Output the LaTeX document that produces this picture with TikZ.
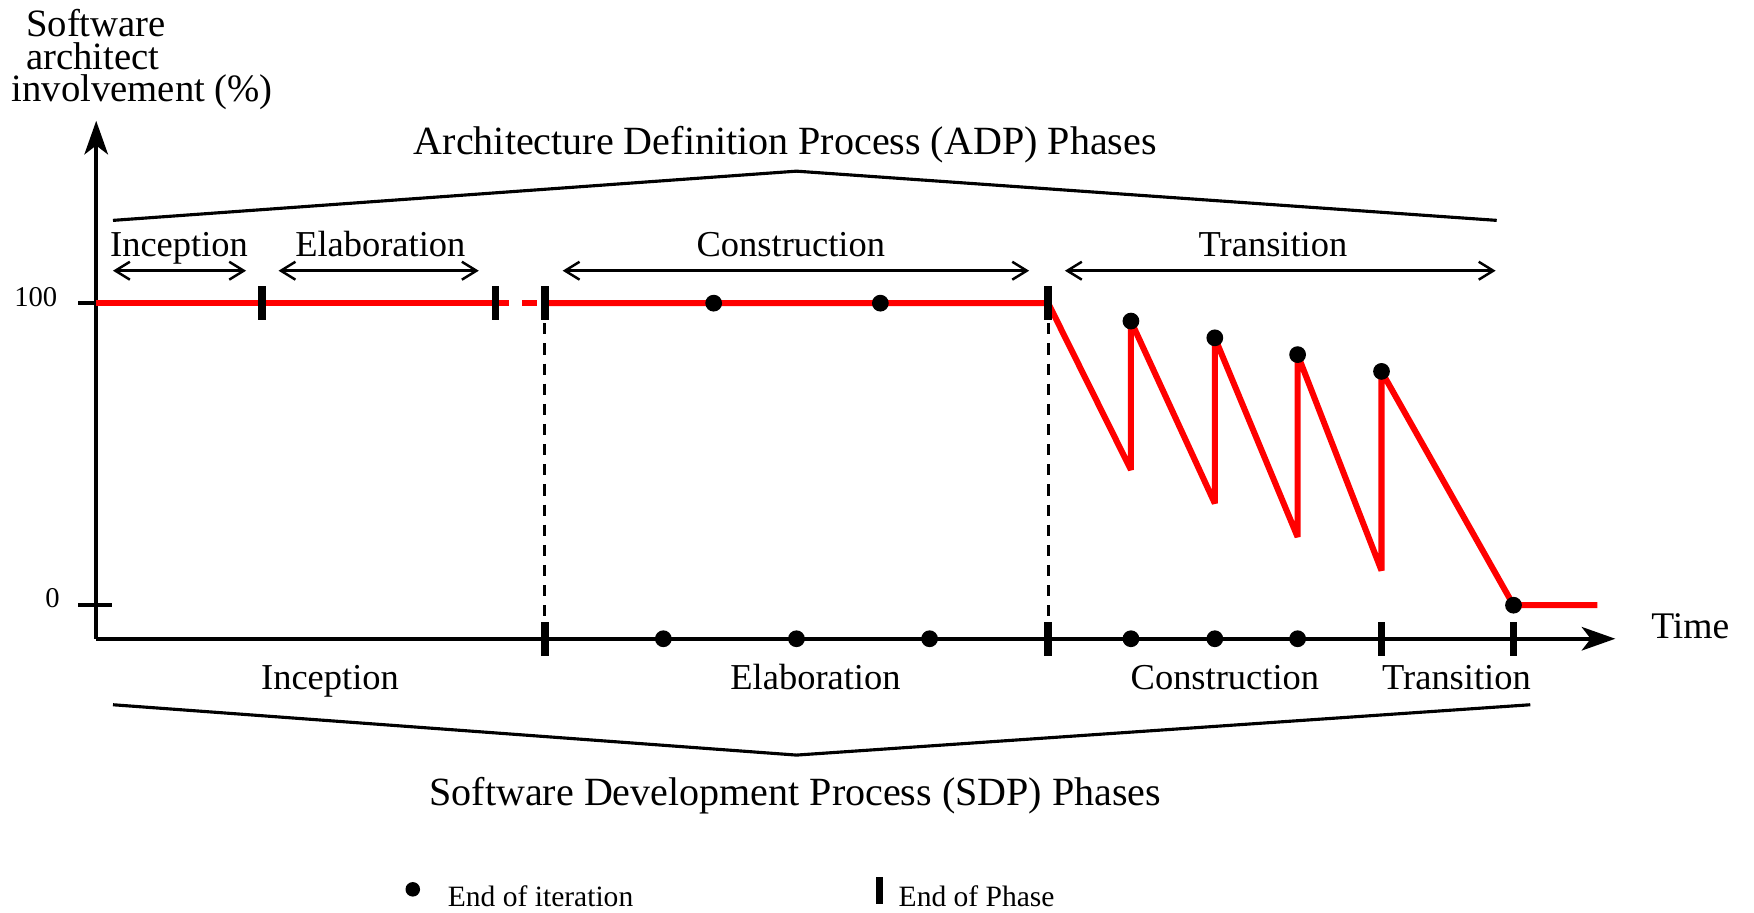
\documentclass[tikz,border=0pt]{standalone}
\usepackage{fontspec}
\setmainfont{Liberation Serif}
\usetikzlibrary{arrows.meta}
\begin{document}
\begin{tikzpicture}[x=0.5pt,y=-0.5pt,
  axis/.style={line width=1.8pt},
  axisarrow/.style={axis,-{Stealth[length=15pt,width=10.5pt,inset=4pt]}},
  redline/.style={draw=red, line width=2.7pt, line join=bevel},
  phasebar/.style={fill=black, minimum width=3.5pt, minimum height=15pt, inner sep=0pt, draw=none},
  iterdot/.style={circle, fill=black, minimum size=7.5pt, inner sep=0pt},
  span/.style={line width=1.1pt, {Straight Barb[length=6.5pt,width=8pt]}-{Straight Barb[length=6.5pt,width=8pt]}},
  brace/.style={line width=1.4pt, line join=miter},
  lbl/.style={inner sep=0pt, anchor=base, font=\fontsize{16.3}{18}\selectfont},
  ttl/.style={inner sep=0pt, font=\fontsize{17.9}{20}\selectfont},
  small/.style={inner sep=0pt, font=\fontsize{13.2}{14}\selectfont},
  ylbl/.style={inner sep=0pt, anchor=base west, font=\fontsize{17.3}{15}\selectfont},
  vdash/.style={line width=1.2pt, dash pattern=on 5pt off 4pt}
]
\useasboundingbox (0,0) rectangle (1568,816);

% axes
\coordinate (O) at (86,571);
\coordinate (ytop) at (86,108);
\coordinate (xend) at (1444,571);
\draw[axisarrow] (O) -- (ytop);
\draw[axisarrow] (O) -- (xend);

% y ticks
\coordinate (t100a) at (70,271);
\coordinate (t100b) at (86,271);
\coordinate (t0a) at (70,541);
\coordinate (t0b) at (100,541);
\draw[axis] (t100a) -- (t100b);
\draw[axis] (t0a) -- (t0b);
\node[small, font=\fontsize{12.8}{14}\selectfont] (l100) at (32,266) {100};
\node[small, font=\fontsize{12.8}{14}\selectfont] (l0) at (47,535) {0};

% axis labels
\node[ylbl] (ylab1) at (23,33) {Software};
\node[ylbl] (ylab2) at (23,62) {architect};
\node[ylbl] (ylab3) at (10,91) {involvement (\%)};
\node[inner sep=0pt, font=\fontsize{16.8}{18}\selectfont] (time) at (1511,560) {Time};

% key points of the involvement curve
\coordinate (r0) at (86,271);
\coordinate (r1) at (455,271);
\coordinate (r2) at (467,271);
\coordinate (r3) at (480,271);
\coordinate (p0) at (487,271);
\coordinate (p1) at (937,271);
\coordinate (z1) at (1011,420);
\coordinate (k1) at (1011,287);
\coordinate (z2) at (1086,450);
\coordinate (k2) at (1086,302);
\coordinate (z3) at (1160,480);
\coordinate (k3) at (1160,317);
\coordinate (z4) at (1235,510);
\coordinate (k4) at (1235,332);
\coordinate (k5) at (1353,541);
\coordinate (rend) at (1428,541);

% bottom axis phase points
\coordinate (b1) at (487,571);
\coordinate (b2) at (937,571);
\coordinate (b3) at (1235,571);
\coordinate (b4) at (1353,571);

% dashed verticals
\draw[vdash] (p0) -- (b1);
\draw[vdash] (p1) -- (b2);

% red curve
\draw[redline] (r0) -- (r1);
\draw[redline] (r2) -- (r3);
\draw[redline] (p0) -- (p1) -- (z1) -- (k1) -- (z2) -- (k2) -- (z3) -- (k3) -- (z4) -- (k4) -- (k5) -- (rend);

% phase bars on the curve
\node[phasebar] (pb1) at (234,271) {};
\node[phasebar] (pb2) at (443,271) {};
\node[phasebar] (pb3) at (p0) {};
\node[phasebar] (pb4) at (p1) {};

% iteration dots on the curve
\node[iterdot] (d1) at (638,271) {};
\node[iterdot] (d2) at (787,271) {};
\node[iterdot] (d3) at (k1) {};
\node[iterdot] (d4) at (k2) {};
\node[iterdot] (d5) at (k3) {};
\node[iterdot] (d6) at (k4) {};
\node[iterdot] (d7) at (k5) {};

% bottom axis bars and dots
\node[phasebar] (bb1) at (b1) {};
\node[phasebar] (bb2) at (b2) {};
\node[phasebar] (bb3) at (b3) {};
\node[phasebar] (bb4) at (b4) {};
\node[iterdot] (e1) at (593,571) {};
\node[iterdot] (e2) at (712,571) {};
\node[iterdot] (e3) at (831,571) {};
\node[iterdot] (e4) at (1011,571) {};
\node[iterdot] (e5) at (1086,571) {};
\node[iterdot] (e6) at (1160,571) {};

% ADP phases (top)
\node[ttl] (adp) at (702,129) {Architecture Definition Process (ADP) Phases};
\coordinate (a1) at (101,197);
\coordinate (a2) at (712,153);
\coordinate (a3) at (1338,197);
\draw[brace] (a1) -- (a2) -- (a3);

\node[lbl] (ti) at (160,229) {Inception};
\node[lbl] (te) at (340,229) {Elaboration};
\node[lbl] (tc) at (707,229) {Construction};
\node[lbl] (tt) at (1138,229) {Transition};
\coordinate (ti1) at (101,242); \coordinate (ti2) at (220,242);
\coordinate (te1) at (249,242); \coordinate (te2) at (428,242);
\coordinate (tc1) at (503,242); \coordinate (tc2) at (920,242);
\coordinate (tt1) at (952,242); \coordinate (tt2) at (1337,242);
\draw[span] (ti1) -- (ti2);
\draw[span] (te1) -- (te2);
\draw[span] (tc1) -- (tc2);
\draw[span] (tt1) -- (tt2);

% SDP phases (bottom)
\node[lbl] (bi) at (295,616) {Inception};
\node[lbl] (be) at (729,616) {Elaboration};
\node[lbl] (bc) at (1095,616) {Construction};
\node[lbl] (bt) at (1302,616) {Transition};
\coordinate (s1) at (101,630);
\coordinate (s2) at (712,675);
\coordinate (s3) at (1368,630);
\draw[brace] (s1) -- (s2) -- (s3);
\node[ttl] (sdp) at (711,711) {Software Development Process (SDP) Phases};

% legend
\node[iterdot, minimum size=6.5pt] (legdot) at (369,795) {};
\node[small, anchor=west] (legdottxt) at (400,801) {End of iteration};
\node[phasebar, minimum width=3pt, minimum height=12pt] (legbar) at (786,796) {};
\node[small, anchor=west] (legbartxt) at (803,801) {End of Phase};
\end{tikzpicture}
\end{document}
